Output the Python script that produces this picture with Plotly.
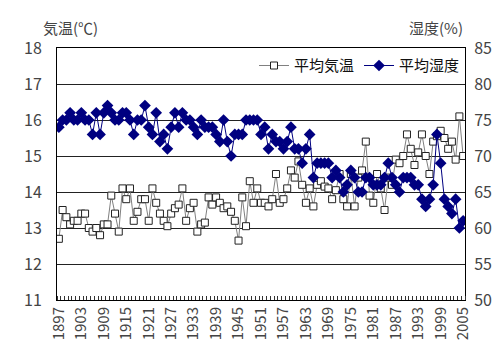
import plotly.graph_objects as go

years = list(range(1897, 2006))

temperature = [
    12.7, 13.5, 13.3, 13.1, 13.2, 13.2, 13.4, 13.4, 13.0, 12.9,
    13.0, 12.8, 13.1, 13.1, 13.9, 13.4, 12.9, 14.1, 13.8, 14.1,
    13.2, 13.45, 13.8, 13.8, 13.2, 14.1, 13.7, 13.4, 13.2, 13.05,
    13.4, 13.55, 13.65, 14.1, 13.2, 13.55, 13.7, 12.9, 13.1, 13.15,
    13.85, 13.65, 13.85, 13.7, 13.55, 13.6, 13.45, 13.2, 12.65, 13.85,
    13.05, 14.3, 13.7, 14.1, 13.7, 13.7, 13.6, 13.8, 14.5, 13.7,
    13.8, 14.1, 14.6, 14.4, 14.85, 14.2, 13.7, 14.1, 13.6, 14.2,
    14.3, 14.15, 14.1, 13.8, 14.05, 14.5, 13.8, 13.6, 14.5, 13.6,
    14.4, 14.6, 15.4, 13.9, 13.7, 14.5, 14.1, 13.5, 14.4, 14.2,
    14.9, 14.8, 15.0, 15.6, 15.2, 14.75, 15.1, 15.6, 15.0, 14.5,
    15.4, 15.55, 15.7, 15.5, 15.2, 15.4, 14.9, 16.1, 15.0,
]

humidity = [
    74, 75, 75, 76, 75, 75, 76, 75, 75, 73,
    76, 73, 76, 77, 76, 75, 75, 76, 76, 75,
    73, 75, 75, 77, 74, 73, 76, 72, 73, 71,
    74, 76, 74, 76, 75, 75, 74, 73, 75, 74,
    74, 74, 73, 72, 75, 72, 70, 73, 73, 73,
    75, 75, 75, 75, 73, 74, 71, 73, 72, 72,
    71, 72, 74, 71, 71, 69, 71, 73, 67, 69,
    69, 69, 69, 67, 68, 67, 65, 66, 68, 67,
    65, 65, 67, 67, 66, 66, 66, 67, 69, 67,
    66, 65, 67, 67, 67, 66, 66, 64, 63, 64,
    66, 73, 69, 64, 63, 62, 64, 60, 61,
]

tick_years = years[::6]
tick_labels = [str(y) for y in tick_years]

FONT = "Noto Sans CJK JP"
TXT = "#444444"

fig = go.Figure()
fig.add_trace(go.Scatter(
    x=years, y=temperature, name="平均気温", mode="lines+markers",
    line=dict(color="#808080", width=1),
    marker=dict(symbol="square", size=7, color="white",
                line=dict(color="#222222", width=1)),
    yaxis="y",
))
fig.add_trace(go.Scatter(
    x=years, y=humidity, name="平均湿度", mode="lines+markers",
    line=dict(color="#000080", width=1),
    marker=dict(symbol="diamond", size=9, color="#000080",
                line=dict(color="#000080", width=0)),
    yaxis="y2",
))

fig.update_layout(
    width=500, height=358,
    margin=dict(l=49, r=43, t=40, b=66),
    paper_bgcolor="white", plot_bgcolor="white",
    font=dict(family=FONT, color=TXT, size=15),
    showlegend=True,
    legend=dict(orientation="h", x=1.0, xanchor="right", y=0.995, yanchor="top",
                bgcolor="rgba(0,0,0,0)", font=dict(size=15, color="#111111"),
                itemwidth=30, tracegroupgap=0),
    xaxis=dict(
        range=[1896.5, 2005.5], tickmode="array", tickvals=tick_years,
        ticktext=tick_labels, tickangle=-90, ticks="",
        tickfont=dict(size=15, color=TXT),
        showgrid=False, zeroline=False,
        showline=True, linecolor="black", linewidth=1, mirror=True,
        minor=dict(ticks="inside", ticklen=4, tickcolor="#333333",
                   dtick=1, tick0=1896.5, showgrid=False),
    ),
    yaxis=dict(
        range=[11, 18], dtick=1, tick0=11, ticks="",
        showgrid=True, gridcolor="#222222", gridwidth=1,
        zeroline=False, showline=True, linecolor="black", linewidth=1,
        tickfont=dict(size=16, color=TXT), ticklabelstandoff=11,
    ),
    yaxis2=dict(
        range=[50, 85], dtick=5, tick0=50, ticks="", overlaying="y", side="right",
        showgrid=False, zeroline=False, showline=True, linecolor="black",
        linewidth=1, tickfont=dict(size=16, color=TXT), ticklabelstandoff=5,
    ),
)

fig.add_annotation(text="気温(℃)", xref="paper", yref="paper", x=-0.04, y=1.0,
                   yshift=8, xanchor="left", yanchor="bottom", showarrow=False,
                   font=dict(size=15, color=TXT))
fig.add_annotation(text="湿度(%)", xref="paper", yref="paper", x=1.0, y=1.0,
                   yshift=8, xanchor="right", yanchor="bottom", showarrow=False,
                   font=dict(size=15, color=TXT))

fig.write_html("out.html")
